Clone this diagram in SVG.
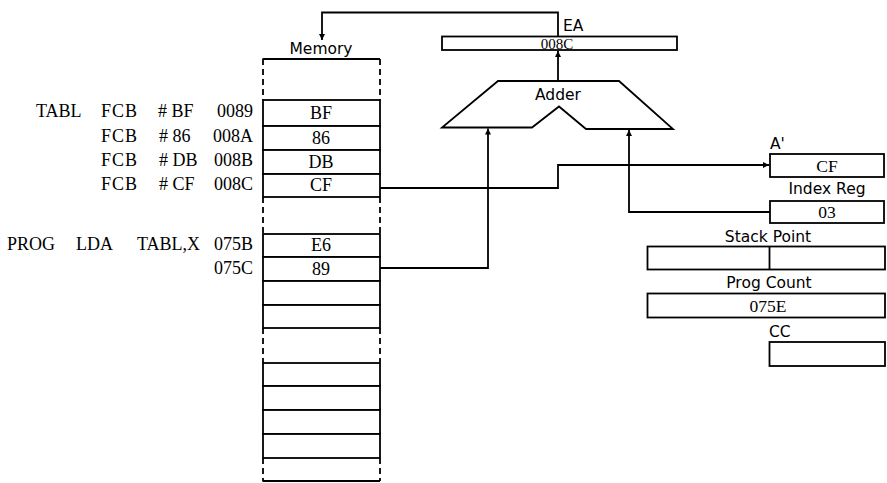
<svg xmlns="http://www.w3.org/2000/svg" width="887" height="483" viewBox="0 0 887 483">
<style>
.ln{fill:none;stroke:#000;stroke-width:1.8}
.bx{fill:#fff;stroke:#000;stroke-width:1.8}
.dash{fill:none;stroke:#000;stroke-width:1.8;stroke-dasharray:6 4}
.t{font-family:"Liberation Serif",serif;font-size:18px;fill:#000}
.c{font-family:"Liberation Serif",serif;font-size:17.5px;fill:#000;text-anchor:middle}
.ea{font-family:"Liberation Serif",serif;font-size:15px;fill:#000;text-anchor:middle}
.s{font-family:"DejaVu Sans",sans-serif;font-size:15.5px;fill:#000}
.m{text-anchor:middle}
.e{text-anchor:end}
</style>
<defs>
<marker id="ah" viewBox="0 0 10 10" refX="10" refY="5" markerWidth="9" markerHeight="6" markerUnits="userSpaceOnUse" orient="auto">
<path d="M0,0 L10,5 L0,10 z" fill="#000"/>
</marker>
</defs>
<rect width="887" height="483" fill="#fff"/>

<g id="listing">
<text class="t" x="36" y="117">TABL</text>
<text class="t e" x="138" y="117" letter-spacing="1">FCB</text>
<text class="t" x="158" y="117"># BF</text>
<text class="t e" x="253" y="117">0089</text>
<text class="t e" x="138" y="142" letter-spacing="1">FCB</text>
<text class="t" x="159" y="142"># 86</text>
<text class="t e" x="253" y="142">008A</text>
<text class="t e" x="138" y="166" letter-spacing="1">FCB</text>
<text class="t" x="159" y="166"># DB</text>
<text class="t e" x="253" y="166">008B</text>
<text class="t e" x="138" y="190" letter-spacing="1">FCB</text>
<text class="t" x="159" y="190"># CF</text>
<text class="t e" x="253" y="190">008C</text>
<text class="t" x="7" y="250">PROG</text>
<text class="t" x="76" y="250">LDA</text>
<text class="t" x="137" y="250">TABL,X</text>
<text class="t e" x="253" y="250">075B</text>
<text class="t e" x="253" y="274">075C</text>
</g>

<g id="memory">
<text class="s m" x="321" y="54">Memory</text>
<line class="ln" x1="262.5" y1="59" x2="380" y2="59"/>
<line class="ln" x1="262.5" y1="481" x2="380" y2="481"/>
<line class="dash" x1="263" y1="59" x2="263" y2="100"/>
<line class="dash" x1="380" y1="59" x2="380" y2="100"/>
<line class="dash" x1="263" y1="197" x2="263" y2="234"/>
<line class="dash" x1="380" y1="197" x2="380" y2="234"/>
<line class="dash" x1="263" y1="328" x2="263" y2="363"/>
<line class="dash" x1="380" y1="328" x2="380" y2="363"/>
<line class="dash" x1="263" y1="458" x2="263" y2="481"/>
<line class="dash" x1="380" y1="458" x2="380" y2="481"/>
<rect class="bx" x="263" y="100" width="117" height="26"/>
<rect class="bx" x="263" y="126" width="117" height="24"/>
<rect class="bx" x="263" y="150" width="117" height="24"/>
<rect class="bx" x="263" y="174" width="117" height="23"/>
<rect class="bx" x="263" y="234" width="117" height="23"/>
<rect class="bx" x="263" y="257" width="117" height="24"/>
<rect class="bx" x="263" y="281" width="117" height="24"/>
<rect class="bx" x="263" y="305" width="117" height="23"/>
<rect class="bx" x="263" y="363" width="117" height="23"/>
<rect class="bx" x="263" y="386" width="117" height="24"/>
<rect class="bx" x="263" y="410" width="117" height="24"/>
<rect class="bx" x="263" y="434" width="117" height="24"/>
<text class="t m" x="321" y="119">BF</text>
<text class="t m" x="321" y="144">86</text>
<text class="t m" x="321" y="168">DB</text>
<text class="t m" x="321" y="191">CF</text>
<text class="t m" x="321" y="251">E6</text>
<text class="t m" x="321" y="275">89</text>
</g>

<g id="ea">
<text class="s" x="563" y="31">EA</text>
<rect class="bx" x="442" y="36.5" width="235" height="13.5"/>
<text class="ea" x="557" y="48.6">008C</text>
</g>

<g id="adder">
<polygon class="bx" points="498,81 619,81 673,129 586,129 559,106.5 532,127.5 442,127.5"/>
<text class="s m" x="558" y="100">Adder</text>
</g>

<g id="reg-a">
<text class="s" x="770" y="149">A'</text>
<rect class="bx" x="770" y="154" width="114" height="23"/>
<text class="c" x="827" y="172">CF</text>
</g>

<g id="reg-index">
<text class="s m" x="827" y="194">Index Reg</text>
<rect class="bx" x="770" y="201" width="114" height="22"/>
<text class="c" x="827" y="218">03</text>
</g>

<g id="reg-stack">
<text class="s m" x="768" y="242">Stack Point</text>
<rect class="bx" x="647.5" y="246.5" width="237.5" height="23"/>
<line class="ln" x1="769.5" y1="246.5" x2="769.5" y2="269.5"/>
</g>

<g id="reg-pc">
<text class="s m" x="769" y="288">Prog Count</text>
<rect class="bx" x="647.5" y="293.5" width="237.5" height="24"/>
<text class="c" x="768" y="312">075E</text>
</g>

<g id="reg-cc">
<text class="s" x="769" y="337">CC</text>
<rect class="bx" x="769.5" y="342" width="115.5" height="24"/>
</g>

<g id="connectors">
<polyline class="ln" points="558,36.5 558,12.5 322,12.5 322,40" marker-end="url(#ah)"/>
<polyline class="ln" points="558,81 558,51" marker-end="url(#ah)"/>
<polyline class="ln" points="380,188 558,188 558,165 769,165" marker-end="url(#ah)"/>
<polyline class="ln" points="380,268 488,268 488,128.5" marker-end="url(#ah)"/>
<polyline class="ln" points="770,212 629,212 629,130" marker-end="url(#ah)"/>
</g>
</svg>
